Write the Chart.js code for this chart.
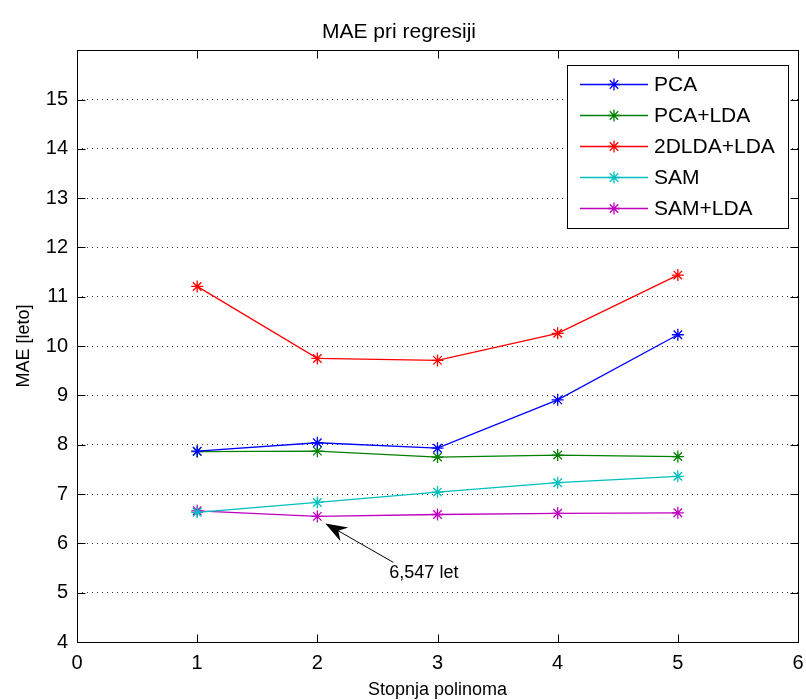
<!DOCTYPE html>
<html>
<head>
<meta charset="utf-8">
<title>MAE pri regresiji</title>
<script src="https://cdn.jsdelivr.net/npm/chart.js@4.4.1/dist/chart.umd.min.js"></script>
<style>
    html, body { margin: 0; padding: 0; background: #fff; }
    #wrap { width: 806px; height: 700px; }
</style>
</head>
<body>
<div id="wrap"><canvas id="mae-chart" width="806" height="700"></canvas></div>
<script>
(function () {
    "use strict";

    // Data
    var degrees = [1, 2, 3, 4, 5];
    var seriesNames = ["PCA", "PCA+LDA", "2DLDA+LDA", "SAM", "SAM+LDA"];
    var maePca = [7.87, 8.04, 7.93, 8.91, 10.23];
    var maePcaLda = [7.86, 7.87, 7.75, 7.79, 7.76];
    var mae2dldaLda = [11.21, 9.75, 9.71, 10.26, 11.44];
    var maeSam = [6.63, 6.83, 7.04, 7.23, 7.36];
    var maeSamLda = [6.66, 6.547, 6.585, 6.61, 6.62];
    var xTicks = [0, 1, 2, 3, 4, 5, 6];
    var yTicks = [4, 5, 6, 7, 8, 9, 10, 11, 12, 13, 14, 15];
    var xRange = [0, 6];
    var yRange = [4, 16];
    var noteIndex = 1; // point on SAM+LDA that carries the arrow


    // MATLAB default colours
    var colors = ["#0000ff", "#008000", "#ff0000", "#00bfbf", "#bf00bf"];
    var font = "'Liberation Sans', Arial, sans-serif";

    Chart.defaults.font.family = font;
    Chart.defaults.color = "#000";

    function toPoints(values) {
        return degrees.map(function (d, i) { return {x: d, y: values[i]}; });
    }

    function drawStar(ctx, x, y, r) {
        var d = r * Math.SQRT1_2;
        ctx.beginPath();
        ctx.moveTo(x - r, y); ctx.lineTo(x + r, y);
        ctx.moveTo(x, y - r); ctx.lineTo(x, y + r);
        ctx.moveTo(x - d, y - d); ctx.lineTo(x + d, y + d);
        ctx.moveTo(x - d, y + d); ctx.lineTo(x + d, y - d);
        ctx.stroke();
    }

    var allSeries = [maePca, maePcaLda, mae2dldaLda, maeSam, maeSamLda];
    var datasets = allSeries.map(function (values, i) {
        return {
            label: seriesNames[i],
            data: toPoints(values),
            borderColor: colors[i],
            backgroundColor: colors[i],
            borderWidth: 1.3,
            pointStyle: "star",
            pointRadius: 6,
            pointBorderWidth: 1.3,
            tension: 0,
            fill: false
        };
    });


    // Box, inward ticks, arrow note and legend drawn the MATLAB way
    var matlabAxes = {
        id: "matlabAxes",
        afterDraw: function (chart) {
            var ctx = chart.ctx;
            var a = chart.chartArea;
            var xs = chart.scales.x;
            var ys = chart.scales.y;
            var L = Math.round(a.left) + 0.5, R = Math.round(a.right) + 0.5;
            var T = Math.round(a.top) + 0.5, B = Math.round(a.bottom) + 0.5;

            ctx.save();
            ctx.strokeStyle = "#000";
            ctx.lineWidth = 1;
            ctx.beginPath();
            xTicks.forEach(function (v) {
                var px = Math.round(xs.getPixelForValue(v)) + 0.5;
                ctx.moveTo(px, B); ctx.lineTo(px, B - 8);
                ctx.moveTo(px, T); ctx.lineTo(px, T + 8);
            });
            yTicks.forEach(function (v) {
                var py = Math.round(ys.getPixelForValue(v)) + 0.5;
                ctx.moveTo(L, py); ctx.lineTo(L + 8, py);
                ctx.moveTo(R, py); ctx.lineTo(R - 8, py);
            });
            ctx.stroke();
            ctx.strokeRect(L, T, R - L, B - T);

            // arrow pointing at the SAM+LDA minimum
            var px0 = xs.getPixelForValue(degrees[noteIndex]);
            var py0 = ys.getPixelForValue(maeSamLda[noteIndex]);
            var tipX = px0 + 8, tipY = py0 + 7;
            var tailX = px0 + 76, tailY = py0 + 46;
            var dx = tipX - tailX, dy = tipY - tailY;
            var len = Math.sqrt(dx * dx + dy * dy);
            var ux = dx / len, uy = dy / len;
            ctx.beginPath();
            ctx.moveTo(tailX, tailY);
            ctx.lineTo(tipX - ux * 10, tipY - uy * 10);
            ctx.stroke();
            ctx.fillStyle = "#000";
            ctx.beginPath();
            ctx.moveTo(tipX, tipY);
            ctx.lineTo(tipX - ux * 22 - uy * 8, tipY - uy * 22 + ux * 8);
            ctx.lineTo(tipX - ux * 15, tipY - uy * 15);
            ctx.lineTo(tipX - ux * 22 + uy * 8, tipY - uy * 22 - ux * 8);
            ctx.closePath();
            ctx.fill();

            ctx.font = "18px " + font;
            ctx.textAlign = "left";
            ctx.textBaseline = "middle";
            var note = maeSamLda[noteIndex].toFixed(3).replace(".", ",") + " let";
            ctx.fillText(note, px0 + 72, py0 + 57);

            // legend
            var lx = 567.5, ly = 65.5, lw = 221, lh = 163;
            ctx.fillStyle = "#fff";
            ctx.fillRect(lx, ly, lw, lh);
            ctx.strokeStyle = "#000";
            ctx.strokeRect(lx, ly, lw, lh);
            ctx.font = "21px " + font;
            chart.data.datasets.forEach(function (ds, i) {
                var ry = Math.round(84 + i * 31) + 0.5;
                ctx.strokeStyle = ds.borderColor;
                ctx.lineWidth = 1.3;
                ctx.beginPath();
                ctx.moveTo(580, ry); ctx.lineTo(648, ry);
                ctx.stroke();
                drawStar(ctx, 614, ry, 6);
                ctx.fillStyle = "#000";
                ctx.fillText(ds.label, 654, ry + 1);
            });
            ctx.restore();
        }
    };


    // MAE chart
    var ctx1 = document.getElementById("mae-chart").getContext("2d");
    var myChart1 = new Chart(ctx1, {
        type: "line",
        data: {datasets: datasets},
        plugins: [matlabAxes],
        options: {
            responsive: false,
            animation: false,
            layout: {padding: {left: 0, right: 8, top: 0, bottom: 0}},
            plugins: {
                legend: {display: false},
                tooltip: {enabled: false},
                title: {
                    display: true,
                    text: "MAE pri regresiji",
                    color: "#000",
                    font: {size: 21, weight: "normal", lineHeight: 1.2},
                    padding: {top: 20, bottom: 5}
                }
            },
            scales: {
                x: {
                    type: "linear",
                    min: xRange[0],
                    max: xRange[1],
                    afterBuildTicks: function (scale) {
                        scale.ticks = xTicks.map(function (v) { return {value: v}; });
                    },
                    afterFit: function (scale) {
                        scale.height = 58;
                        scale.paddingLeft = 0;
                        scale.paddingRight = 0;
                    },
                    grid: {display: false, drawTicks: false},
                    border: {display: false},
                    ticks: {padding: 9, font: {size: 20}, maxRotation: 0},
                    title: {
                        display: true,
                        text: "Stopnja polinoma",
                        font: {size: 18, lineHeight: 1},
                        padding: {top: 0, bottom: 1}
                    }
                },
                y: {
                    type: "linear",
                    min: yRange[0],
                    max: yRange[1],
                    afterBuildTicks: function (scale) {
                        scale.ticks = yTicks.map(function (v) { return {value: v}; });
                    },
                    afterFit: function (scale) { scale.width = 77; },
                    grid: {color: "#333", lineWidth: 1, drawTicks: false},
                    border: {display: false, dash: [1, 4]},
                    ticks: {padding: 9, font: {size: 20}},
                    title: {
                        display: true,
                        text: "MAE [leto]",
                        font: {size: 18, lineHeight: 1.2},
                        padding: {top: 13, bottom: 0}
                    }
                }
            }
        }
    });
})();
</script>
</body>
</html>
